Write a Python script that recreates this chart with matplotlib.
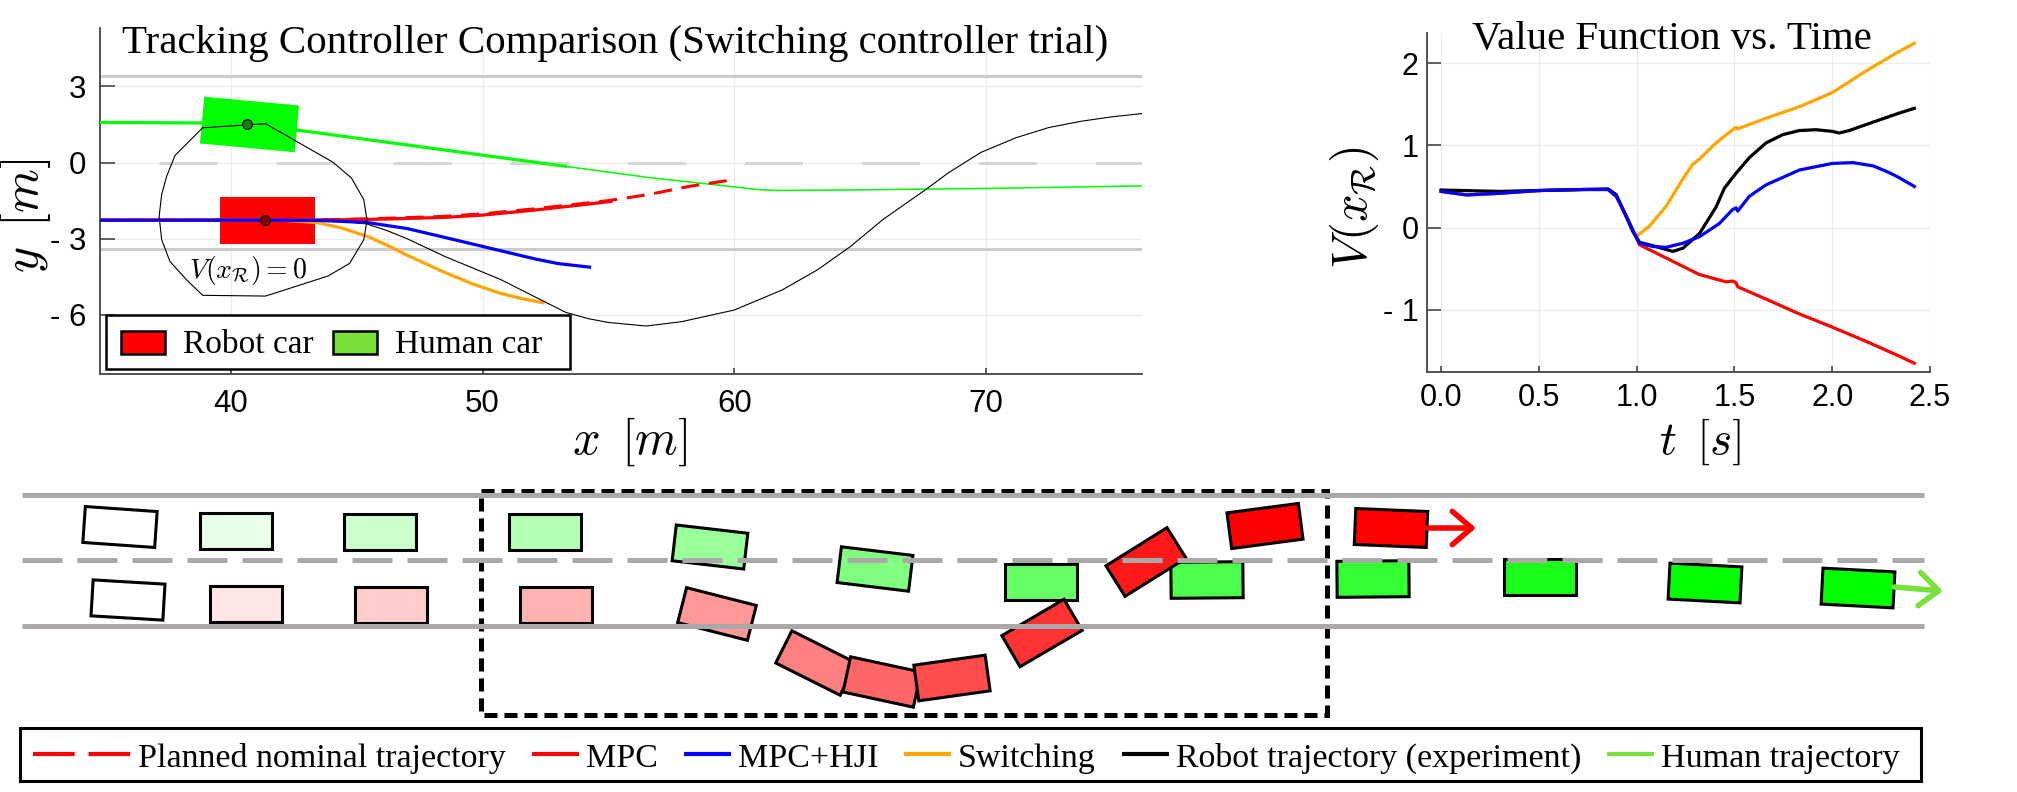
import matplotlib
matplotlib.use('Agg')
import matplotlib.pyplot as plt
from matplotlib.patches import Rectangle

W, H = 2017, 792
plt.rcParams['font.family'] = ['Liberation Serif', 'DejaVu Serif']
plt.rcParams['mathtext.fontset'] = 'cm'
plt.rcParams['lines.scale_dashes'] = False
plt.rcParams['axes.unicode_minus'] = False

# ---------------- top-left: trajectories in x-y (metres) ----------------
human_x = [34.8, 40.6, 53.3]
human_y = [1.58, 1.55, -0.15]
human_pred_x = [53.3, 56.6, 58.9, 61.0, 61.7, 64.6, 70.0, 76.2]
human_pred_y = [-0.15, -0.59, -0.84, -1.07, -1.10, -1.08, -1.02, -0.92]

planned_x = [34.8, 42, 44, 46, 48.5, 50, 52, 54, 55, 56.6, 58.2, 60.0]
planned_y = [-2.27, -2.27, -2.25, -2.2, -2.12, -2.02, -1.83, -1.61, -1.5, -1.26, -0.94, -0.67]
mpc_x = [34.8, 44, 46, 48.5, 50, 52, 54, 55.1]
mpc_y = [-2.27, -2.26, -2.23, -2.16, -2.07, -1.88, -1.66, -1.53]
hji_x = [34.8, 42, 43.5, 45.4, 47, 48.5, 50.7, 52.1, 53.0, 54.25]
hji_y = [-2.27, -2.27, -2.28, -2.36, -2.6, -2.95, -3.47, -3.8, -3.98, -4.12]
sw_x = [34.8, 42, 43.4, 44.4, 45.4, 46.2, 47, 48.5, 49.6, 50.7, 51.6, 52.4]
sw_y = [-2.27, -2.27, -2.36, -2.58, -2.9, -3.25, -3.65, -4.33, -4.78, -5.15, -5.37, -5.52]
exp_x = [34.8, 42, 44, 45.4, 46.2, 47, 48.5, 49.6, 50.7, 51.5, 52.4, 53.3, 54.2, 55, 56.5,
         57.9, 60, 61.9, 63.3, 64.6, 65.9, 67.6, 68.5, 69.8, 71.2, 72.5, 73.8, 75, 76.2]
exp_y = [-2.27, -2.27, -2.28, -2.42, -2.68, -3.0, -3.7, -4.15, -4.6, -5.0, -5.45, -5.9, -6.15,
         -6.3, -6.44, -6.27, -5.81, -5.02, -4.23, -3.32, -2.25, -1.07, -0.41, 0.4, 0.98,
         1.38, 1.63, 1.8, 1.93]

# zero level set of the value function around the robot
level_x = [38.88, 41.38, 44.06, 44.79, 45.28, 45.41, 45.28, 44.72, 43.86, 41.38,
           38.88, 38.24, 37.58, 37.25, 37.15, 37.25, 37.45, 37.78, 38.88]
level_y = [1.37, 1.53, 0.01, -0.61, -1.46, -2.28, -3.04, -3.97, -4.47, -5.26,
           -5.23, -4.62, -3.90, -3.04, -2.12, -1.26, -0.54, 0.28, 1.37]

robot_car = (41.47, -2.29, 0.0)     # centre x, centre y, heading (deg)
human_car = (40.74, 1.50, -5.3)
car_len, car_wid = 3.78, 1.85
robot_dot = (41.37, -2.28)
human_dot = (40.65, 1.51)

# ---------------- top-right: value function vs time ----------------
t_pre = [0.0, 0.131, 0.301, 0.497, 0.726, 0.854, 0.896, 0.947, 0.99]
v_pre = [0.44, 0.397, 0.417, 0.45, 0.463, 0.463, 0.38, 0.14, -0.08]

t_mpc = t_pre + [1.015, 1.151, 1.32, 1.457, 1.491, 1.508, 1.517, 1.662, 1.832, 2.0, 2.17, 2.34, 2.42]
v_mpc = v_pre + [-0.21, -0.37, -0.57, -0.66, -0.65, -0.67, -0.72, -0.87, -1.05, -1.21, -1.38, -1.56, -1.65]

t_sw = t_pre + [0.998, 1.066, 1.151, 1.236, 1.287, 1.32, 1.406, 1.491, 1.508, 1.517, 1.662, 1.832, 2.0, 2.17, 2.34, 2.42]
v_sw = v_pre + [-0.11, 0.02, 0.26, 0.59, 0.77, 0.83, 1.03, 1.19, 1.22, 1.20, 1.33, 1.47, 1.64, 1.90, 2.14, 2.24]

t_exp = [0.0, 0.3, 0.726, 0.854, 0.896, 0.981, 1.015, 1.083, 1.185, 1.237, 1.322, 1.406,
         1.449, 1.508, 1.576, 1.662, 1.747, 1.832, 1.917, 2.0, 2.036, 2.087, 2.17, 2.34, 2.42]
v_exp = [0.457, 0.44, 0.463, 0.47, 0.40, -0.05, -0.18, -0.22, -0.29, -0.25, -0.07, 0.25,
         0.48, 0.66, 0.85, 1.03, 1.13, 1.18, 1.19, 1.17, 1.15, 1.18, 1.25, 1.39, 1.45]

t_hji = t_pre + [1.015, 1.083, 1.151, 1.237, 1.322, 1.423, 1.491, 1.508, 1.517, 1.576, 1.662,
                 1.832, 2.0, 2.105, 2.21, 2.29, 2.34, 2.42]
v_hji = v_pre + [-0.19, -0.23, -0.24, -0.19, -0.11, 0.05, 0.22, 0.24, 0.20, 0.38, 0.52,
                 0.70, 0.78, 0.79, 0.75, 0.67, 0.61, 0.50]

# ---------------- bottom: snapshots of the two cars (scene pixels) ----------------
shade = [0.0, 0.1, 0.2, 0.3, 0.4, 0.5, 0.6, 0.7, 0.8, 0.9, 1.0, 1.0]
hum_sx = [120, 236, 380, 545, 710, 875, 1041, 1207, 1373, 1540, 1705, 1858]
hum_sy = [527, 531, 532, 532, 547, 569, 582, 580, 579, 577, 583, 588]
hum_sa = [4, 0, 0, 0, 6.6, 6.9, 0, -0.5, -0.5, 0, 3, 3]
rob_sx = [128, 246, 391, 556, 717, 816, 882, 952, 1042, 1146, 1265, 1391]
rob_sy = [600, 604, 605, 605, 614, 663, 682, 678, 633, 562, 526, 528]
rob_sa = [3.4, 0, 0, 0, 14.3, 26.6, 12.2, -8, -30.3, -32, -7.5, 2.4]
lane_y = [495, 560, 626]

legend_labels = ['Planned nominal trajectory', 'MPC', 'MPC+HJI', 'Switching',
                 'Robot trajectory (experiment)', 'Human trajectory']
legend_colors = ['red', 'red', 'blue', '#ffa500', 'black', '#77e03b']

fig = plt.figure(figsize=(W / 100, H / 100), dpi=100)


def box(l, t, r, b):
    return [l / W, 1 - b / H, (r - l) / W, (b - t) / H]


def style_axes(ax):
    for s in ['top', 'right']:
        ax.spines[s].set_visible(False)
    for s in ['left', 'bottom']:
        ax.spines[s].set_color('#444444')
        ax.spines[s].set_linewidth(1.3)
    ax.grid(True, color='#ececec', lw=0.9)
    ax.set_axisbelow(True)


# ===== top-left =====
ax1 = fig.add_axes(box(100, 28, 1142, 374))
style_axes(ax1)
ax1.set_xlim(34.8, 76.2)
ax1.set_ylim(-8.33, 5.3)
ax1.set_xticks([40, 50, 60, 70])
ax1.set_xticklabels(['40', '50', '60', '70'], fontfamily='Liberation Sans', fontsize=22.5)
ax1.set_yticks([-6, -3, 0, 3])
ax1.set_yticklabels(['- 6', '- 3', '0', '3'], fontfamily='Liberation Sans', fontsize=22.5)
ax1.tick_params(axis='y', direction='in', length=11, width=1.2, pad=10, color='#444444')
ax1.tick_params(axis='x', direction='in', length=4, width=1.2, pad=11, color='#444444')

ax1.axhline(3.4, color='#cccccc', lw=2.2, zorder=1)
ax1.axhline(-3.4, color='#cccccc', lw=2.2, zorder=1)
ax1.axhline(0, color='#d6d6d6', lw=2.2, ls=(41.8, (41.8, 42.5)), zorder=1)

for (cx, cy, ang), col in [(robot_car, 'red'), (human_car, '#00ff00')]:
    ax1.add_patch(Rectangle((cx - car_len / 2, cy - car_wid / 2), car_len, car_wid,
                            angle=ang, rotation_point='center', fc=col, ec='none', zorder=2))

ax1.plot(human_x, human_y, color='#00ff00', lw=2.3, zorder=3)
ax1.plot(human_pred_x, human_pred_y, color='#00ff00', lw=1.1, zorder=3)
ax1.plot(planned_x, planned_y, color='red', lw=2.2, ls=(0, (13, 7)), zorder=3)
ax1.plot(sw_x, sw_y, color='#ffa500', lw=2.3, zorder=4)
ax1.plot(exp_x, exp_y, color='black', lw=0.8, zorder=4)
ax1.plot(mpc_x, mpc_y, color='red', lw=2.3, zorder=5)
ax1.plot(hji_x, hji_y, color='blue', lw=2.3, zorder=6)
ax1.plot(level_x, level_y, color='black', lw=0.8, zorder=6)
ax1.plot(*robot_dot, 'o', ms=7, mfc='#8b0000', mec='black', mew=0.8, zorder=7)
ax1.plot(*human_dot, 'o', ms=7, mfc='#1d7a1d', mec='black', mew=0.8, zorder=7)
ax1.text(40.69, -4.26, r'$V(x_{\mathcal{R}}) = 0$', fontsize=20, ha='center', va='center', zorder=7)

# ===== top-right =====
ax2 = fig.add_axes(box(1427, 33, 1930, 372))
style_axes(ax2)
ax2.set_xlim(-0.072, 2.5)
ax2.set_ylim(-1.756, 2.366)
ax2.set_xticks([0, 0.5, 1.0, 1.5, 2.0, 2.5])
ax2.set_xticklabels(['0.0', '0.5', '1.0', '1.5', '2.0', '2.5'], fontfamily='Liberation Sans', fontsize=22)
ax2.set_yticks([-1, 0, 1, 2])
ax2.set_yticklabels(['- 1', '0', '1', '2'], fontfamily='Liberation Sans', fontsize=22)
ax2.tick_params(axis='y', direction='in', length=10, width=1.2, pad=6, color='#444444')
ax2.tick_params(axis='x', direction='in', length=4, width=1.2, pad=8, color='#444444')

ax2.plot(t_mpc, v_mpc, color='red', lw=2.3)
ax2.plot(t_sw, v_sw, color='#ffa500', lw=2.3)
ax2.plot(t_exp, v_exp, color='black', lw=2.3)
ax2.plot(t_hji, v_hji, color='blue', lw=2.3)

# ===== overlay in figure pixels: labels, scene, legends =====
ov = fig.add_axes([0, 0, 1, 1], zorder=10)
ov.set_xlim(0, W)
ov.set_ylim(H, 0)
ov.axis('off')
renderer = fig.canvas.get_renderer()


def fit_width(txt, width):
    bb = txt.get_window_extent(renderer)
    txt.set_fontsize(txt.get_fontsize() * width / bb.width)


t1 = ov.text(615, 53, 'Tracking Controller Comparison (Switching controller trial)',
             fontsize=27, ha='center', va='baseline')
fit_width(t1, 986)
t2 = ov.text(1672, 49, 'Value Function vs. Time', fontsize=27, ha='center', va='baseline')
fit_width(t2, 400)

ov.text(25, 216, r'$y\ \,[m]$', rotation=90, fontsize=36, ha='center', va='center')
ov.text(630, 442, r'$x\ \,[m]$', fontsize=35, ha='center', va='center')
ov.text(1354, 207, r'$V(x_{\mathcal{R}})$', rotation=90, fontsize=35, ha='center', va='center')
ov.text(1700, 442, r'$t\ \,[s]$', fontsize=34, ha='center', va='center')

# top-left legend
ov.add_patch(Rectangle((106, 315), 464, 54, fc='white', ec='black', lw=1.8))
ov.add_patch(Rectangle((121, 331), 44, 23, fc='red', ec='black', lw=1.8))
ov.add_patch(Rectangle((333, 331), 44, 23, fc='#77e03b', ec='black', lw=1.8))
ov.text(183, 353, 'Robot car', fontsize=24, va='baseline')
ov.text(395, 353, 'Human car', fontsize=24, va='baseline')

# scene
ov.plot([22, 1924], [lane_y[0]] * 2, color='#aca8a8', lw=3.6, solid_capstyle='butt')
ov.plot([22, 1924], [lane_y[1]] * 2, color='#aca8a8', lw=3.6, ls=(0, (28.8, 10.8)))
ov.plot([22, 1924], [lane_y[2]] * 2, color='#aca8a8', lw=3.6, solid_capstyle='butt')
ov.add_patch(Rectangle((481, 491), 846, 224, fill=False, ec='black', lw=3.6, ls=(0, (9.4, 5))))

L, Wd = 72, 36
for xs, ys, angs, base in [(hum_sx, hum_sy, hum_sa, 'g'), (rob_sx, rob_sy, rob_sa, 'r')]:
    for cx, cy, a, s in zip(xs, ys, angs, shade):
        fc = (1 - s, 1, 1 - s) if base == 'g' else (1, 1 - s, 1 - s)
        ov.add_patch(Rectangle((cx - L / 2, cy - Wd / 2), L, Wd, angle=a, rotation_point='center',
                               fc=fc, ec='black', lw=2.2))

ov.annotate('', xy=(1476, 528), xytext=(1428, 528),
            arrowprops=dict(arrowstyle='->,head_length=0.7,head_width=0.6', color='red', lw=4,
                            mutation_scale=20, shrinkA=0, shrinkB=0))
ov.annotate('', xy=(1943, 591), xytext=(1894, 587),
            arrowprops=dict(arrowstyle='->,head_length=0.7,head_width=0.6', color='#77e03b', lw=4,
                            mutation_scale=20, shrinkA=0, shrinkB=0))

# bottom legend, laid out left to right
ov.add_patch(Rectangle((20, 728), 1901, 53, fill=False, ec='black', lw=2.2))
x = 33
for i, (lab, col) in enumerate(zip(legend_labels, legend_colors)):
    hl = 98 if i == 0 else 47
    ls = (0, (30, 10)) if i == 0 else '-'
    ov.plot([x, x + hl], [754, 754], color=col, lw=3, ls=ls, solid_capstyle='butt')
    txt = ov.text(x + hl + 7, 767, lab, fontsize=24.5, va='baseline')
    x = x + hl + 7 + txt.get_window_extent(renderer).width + 26

fig.savefig('out.png', dpi=100)
